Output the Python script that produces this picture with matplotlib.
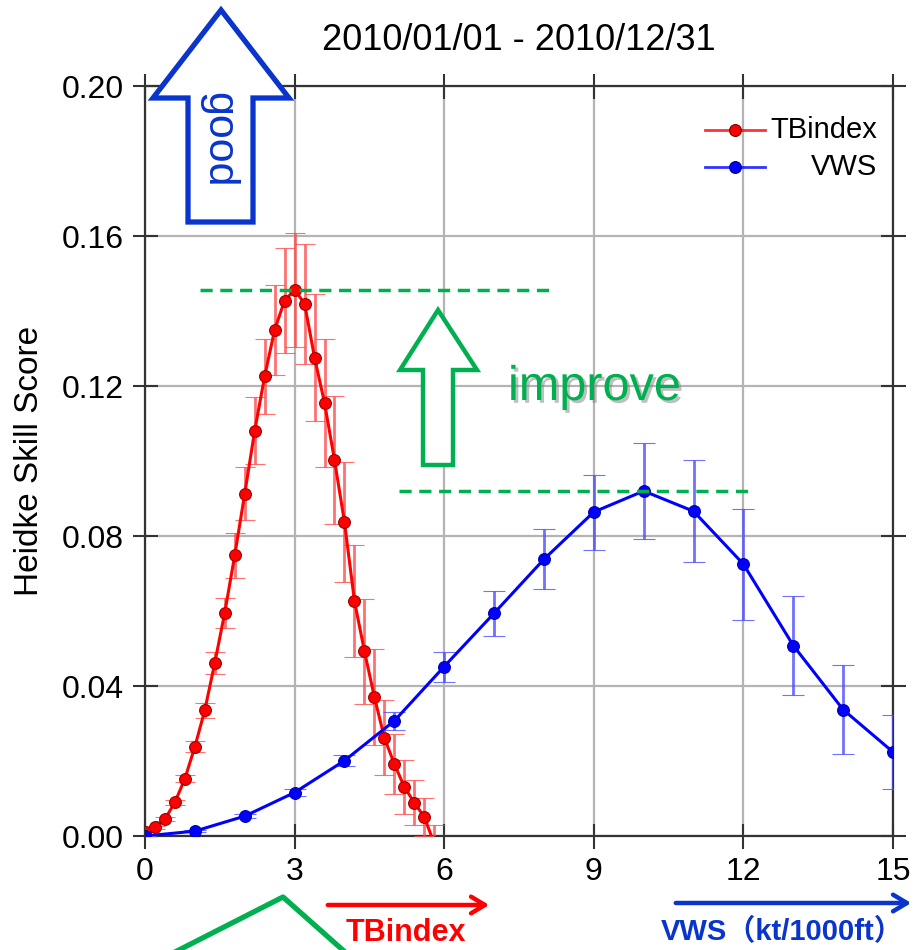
import matplotlib
matplotlib.use("Agg")
import matplotlib.pyplot as plt
from matplotlib.patches import Polygon, FancyArrowPatch
from matplotlib.lines import Line2D
import matplotlib.patheffects as pe

plt.rcParams['font.family'] = ['Liberation Sans', 'Noto Sans CJK JP', 'DejaVu Sans']

# ---------------- data ----------------
title = "2010/01/01 - 2010/12/31"
ylabel = "Heidke Skill Score"
xticks = [0, 3, 6, 9, 12, 15]
yticks = [0.00, 0.04, 0.08, 0.12, 0.16, 0.20]

tb_x = [0.0, 0.2, 0.4, 0.6, 0.8, 1.0, 1.2, 1.4, 1.6, 1.8,
        2.0, 2.2, 2.4, 2.6, 2.8, 3.0, 3.2, 3.4, 3.6, 3.8,
        4.0, 4.2, 4.4, 4.6, 4.8, 5.0, 5.2, 5.4, 5.6, 5.8]
tb_y = [0.0010, 0.0023, 0.0045, 0.0090, 0.0153, 0.0238, 0.0336, 0.0462, 0.0596, 0.0749,
        0.0913, 0.1081, 0.1226, 0.1350, 0.1428, 0.1456, 0.1420, 0.1276, 0.1155, 0.1003,
        0.0837, 0.0627, 0.0493, 0.0371, 0.0262, 0.0192, 0.0131, 0.0089, 0.0051, -0.0020]
tb_err = [0.0004, 0.0005, 0.0006, 0.0007, 0.0010, 0.0015, 0.0020, 0.0030, 0.0040, 0.0060,
          0.0070, 0.0090, 0.0100, 0.0120, 0.0140, 0.0153, 0.0160, 0.0170, 0.0170, 0.0170,
          0.0160, 0.0150, 0.0140, 0.0127, 0.0100, 0.0080, 0.0073, 0.0060, 0.0050, 0.0050]

vws_x = [0, 1, 2, 3, 4, 5, 6, 7, 8, 9, 10, 11, 12, 13, 14, 15]
vws_y = [0.0, 0.0013, 0.0053, 0.0116, 0.0201, 0.0307, 0.0452, 0.0594,
         0.0738, 0.0864, 0.0920, 0.0866, 0.0725, 0.0508, 0.0337, 0.0224]
vws_err = [0.0, 0.0003, 0.0006, 0.0010, 0.0015, 0.0025, 0.0040, 0.0060,
           0.0080, 0.0100, 0.0127, 0.0136, 0.0148, 0.0132, 0.0118, 0.0098]

series_names = ["TBindex", "VWS"]
xlabel_tb = "TBindex"
xlabel_vws = "VWS（kt/1000ft）"

RED = "#ff0000"
BLUE = "#0000ff"
DBLUE = "#0a35cc"
GREEN = "#00b050"

W, H = 914, 950
fig = plt.figure(figsize=(W / 100, H / 100), dpi=100)
ax = fig.add_axes([145 / W, 1 - 836 / H, (893 - 145) / W, (836 - 86) / H])


def px(x, y):
    return (x / W, 1 - y / H)


# grid
ax.set_axisbelow(True)
ax.grid(True, color="#b4b4b4", lw=1.6)

# series
ax.errorbar(tb_x, tb_y, yerr=tb_err, color=RED, lw=2.2, marker="o", ms=8.5,
            mfc=RED, mec="#990000", mew=0.8, ecolor=(1, 0.3, 0.3, 0.8),
            elinewidth=2.0, capsize=7, capthick=2.0, zorder=3)
ax.errorbar(vws_x, vws_y, yerr=vws_err, color=BLUE, lw=2.2, marker="o", ms=8.5,
            mfc=BLUE, mec="#0000aa", mew=0.8, ecolor=(0.3, 0.3, 1, 0.8),
            elinewidth=2.0, capsize=8, capthick=2.0, zorder=3)

ax.set_xlim(0, 15)
ax.set_ylim(0, 0.20)
ax.set_xticks(xticks)
ax.set_yticks(yticks)
ax.set_yticklabels([f"{v:.2f}" for v in yticks])
ax.tick_params(direction="inout", length=18, width=1.5, labelsize=23, pad=6,
               top=True, right=True, colors="#333333", labelcolor="black")
for s in ax.spines.values():
    s.set_linewidth(1.6)
    s.set_color("#333333")
ax.set_ylabel(ylabel, fontsize=24, labelpad=12)
ax.set_title(title, fontsize=26, pad=26)

# manual legend (right-aligned text)
for yy, col, name in [(0.941, RED, series_names[0]), (0.892, BLUE, series_names[1])]:
    ax.add_line(Line2D([0.749, 0.829], [yy, yy], transform=ax.transAxes,
                       color=col, lw=2, alpha=0.8))
    ax.add_line(Line2D([0.789], [yy], transform=ax.transAxes, color=col,
                       marker="o", ms=8.5, mec="#660000" if col == RED else "#000088",
                       mew=0.8, lw=0))
    ax.text(0.979, yy, name, transform=ax.transAxes, ha="right", va="center",
            fontsize=21)

# green dashed "improve" reference lines (at the two peaks)
ax.hlines(max(tb_y), 1.1, 8.1, colors=GREEN, linestyles=(0, (3.5, 2.2)), lw=2.5, zorder=4)
ax.hlines(max(vws_y), 5.1, 12.1, colors=GREEN, linestyles=(0, (3.5, 2.2)), lw=2.5, zorder=4)

# "improve" outline arrow
imp = [px(438, 310), px(477, 370), px(453, 370), px(453, 465),
       px(423, 465), px(423, 370), px(400, 370)]
fig.add_artist(Polygon(imp, closed=True, transform=fig.transFigure,
                       fill=True, facecolor="white", edgecolor=GREEN, lw=3.2, zorder=5))
fig.text(508 / W, 1 - 400 / H, "improve", color=GREEN, fontsize=35,
         ha="left", va="baseline",
         path_effects=[pe.SimplePatchShadow(offset=(2, -2), shadow_rgbFace="#808080", alpha=0.5),
                       pe.Normal()])

# "good" outline arrow
good = [px(221, 10), px(289, 98), px(253, 98), px(253, 222),
        px(188, 222), px(188, 98), px(153, 98)]
fig.add_artist(Polygon(good, closed=True, transform=fig.transFigure,
                       fill=True, facecolor="white", edgecolor=DBLUE, lw=3.8, zorder=5))
fig.text(218 / W, 1 - 140 / H, "good", color=DBLUE, fontsize=31, rotation=-90,
         ha="center", va="center", zorder=6)

# bottom green peak shape
tri = [px(175, 952), px(283, 897), px(345, 952)]
fig.add_artist(Line2D([p[0] for p in tri], [p[1] for p in tri],
                      transform=fig.transFigure, color=GREEN, lw=3.8))

# axis direction arrows and labels
fig.add_artist(FancyArrowPatch(px(325, 905), px(492, 905), transform=fig.transFigure,
                               arrowstyle="->,head_length=10,head_width=6",
                               color=RED, lw=3.2, mutation_scale=1))
fig.text(406 / W, 1 - 933 / H, xlabel_tb, color=RED, fontsize=22, fontweight="bold",
         ha="center", va="center")
fig.add_artist(FancyArrowPatch(px(673, 903), px(914, 903), transform=fig.transFigure,
                               arrowstyle="->,head_length=10,head_width=6",
                               color=DBLUE, lw=3.2, mutation_scale=1))
fig.text(782 / W, 1 - 932 / H, xlabel_vws, color=DBLUE, fontsize=21, fontweight="bold",
         ha="center", va="center")

fig.savefig("out.png", dpi=100)
